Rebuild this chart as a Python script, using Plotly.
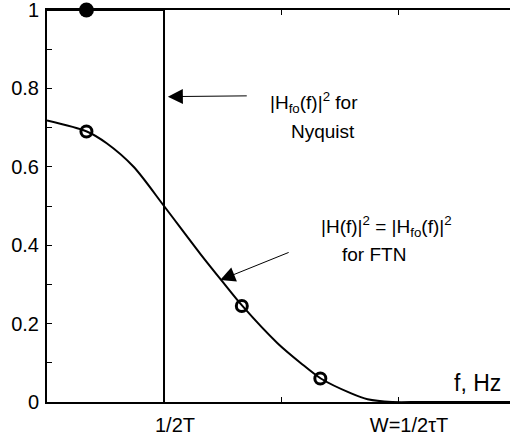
import plotly.graph_objects as go

# Data (x in units of 1/2T)
curve_f = [0, 0.34, 0.51, 0.74, 1.0, 1.31, 1.5, 1.67, 1.97, 2.17, 2.34, 2.6, 2.74, 2.95, 3.2, 3.96]
curve_h = [0.718, 0.690, 0.660, 0.600, 0.5, 0.378, 0.307, 0.245, 0.150, 0.099, 0.060, 0.022, 0.007, 0.0, 0.0, 0.0]

nyq_f = [0, 1, 1]
nyq_h = [1, 1, 0]

filled_f = [0.337]
filled_h = [1.0]

open_f = [0.337, 1.665, 2.336]
open_h = [0.690, 0.245, 0.060]

x_tickvals = [0, 1, 2, 3]
x_ticktext = ["", "1/2T", "", "W=1/2\u03c4T"]
y_tickvals = [0, 0.1, 0.2, 0.3, 0.4, 0.5, 0.6, 0.7, 0.8, 0.9, 1.0]
y_ticktext = ["0", "", "0.2", "", "0.4", "", "0.6", "", "0.8", "", "1"]

FONT = "Arial, Liberation Sans, Helvetica, sans-serif"

fig = go.Figure()
fig.add_trace(go.Scatter(x=curve_f, y=curve_h, mode="lines",
                         line=dict(color="black", width=2, shape="spline", smoothing=0.8),
                         cliponaxis=False, showlegend=False))
fig.add_trace(go.Scatter(x=nyq_f, y=nyq_h, mode="lines",
                         line=dict(color="black", width=2),
                         cliponaxis=False, showlegend=False))
fig.add_trace(go.Scatter(x=filled_f, y=filled_h, mode="markers",
                         marker=dict(symbol="circle", size=15, color="black"),
                         cliponaxis=False, showlegend=False))
fig.add_trace(go.Scatter(x=open_f, y=open_h, mode="markers",
                         marker=dict(symbol="circle-open", size=11, color="black",
                                     line=dict(width=3, color="black")),
                         cliponaxis=False, showlegend=False))

ann_font = dict(family=FONT, size=19, color="black")
annotations = [
    dict(x=2.285, y=0.764, xref="x", yref="y", text="|H<sub>fo</sub>(f)|<sup>2</sup> for",
         showarrow=False, font=ann_font, xanchor="center", yanchor="middle"),
    dict(x=2.36, y=0.691, xref="x", yref="y", text="Nyquist",
         showarrow=False, font=ann_font, xanchor="center", yanchor="middle"),
    dict(x=2.905, y=0.447, xref="x", yref="y",
         text="|H(f)|<sup>2</sup> = |H<sub>fo</sub>(f)|<sup>2</sup>",
         showarrow=False, font=ann_font, xanchor="center", yanchor="middle"),
    dict(x=2.794, y=0.376, xref="x", yref="y", text="for FTN",
         showarrow=False, font=ann_font, xanchor="center", yanchor="middle"),
    dict(x=3.68, y=0.048, xref="x", yref="y", text="f, Hz",
         showarrow=False, font=dict(family=FONT, size=23, color="black"),
         xanchor="center", yanchor="middle"),
    dict(x=1.033, y=0.779, xref="x", yref="y", ax=1.72, ay=0.781, axref="x", ayref="y",
         text="", showarrow=True, arrowhead=2, arrowsize=3, arrowwidth=1, arrowcolor="black"),
    dict(x=1.48, y=0.311, xref="x", yref="y", ax=2.078, ay=0.383, axref="x", ayref="y",
         text="", showarrow=True, arrowhead=2, arrowsize=3, arrowwidth=1, arrowcolor="black"),
]

fig.update_layout(
    width=510, height=445,
    margin=dict(l=47, r=0, t=10, b=43, autoexpand=False),
    paper_bgcolor="white", plot_bgcolor="white",
    font=dict(family=FONT, size=20, color="black"),
    annotations=annotations,
    xaxis=dict(range=[0, 3.957], tickvals=x_tickvals, ticktext=x_ticktext,
               ticks="inside", ticklen=5, tickwidth=1, tickcolor="black",
               showline=True, linecolor="black", linewidth=2, mirror="ticks",
               showgrid=False, zeroline=False, ticklabelshift=11, ticklabelstandoff=4,
               automargin=False, ticklabeloverflow="allow",
               tickfont=dict(family=FONT, size=20, color="black")),
    yaxis=dict(range=[0, 1], tickvals=y_tickvals, ticktext=y_ticktext,
               ticks="inside", ticklen=5, tickwidth=1, tickcolor="black",
               showline=True, linecolor="black", linewidth=2, mirror=False,
               showgrid=False, zeroline=False, ticklabelstandoff=2,
               automargin=False, ticklabeloverflow="allow",
               tickfont=dict(family=FONT, size=20, color="black")),
)

# Remove the default 8px body margin so the figure sits at the window's top-left corner.
fig.write_html("out.html", config={"displayModeBar": False},
               post_script="document.body.style.margin='0';document.body.style.overflow='hidden';")
